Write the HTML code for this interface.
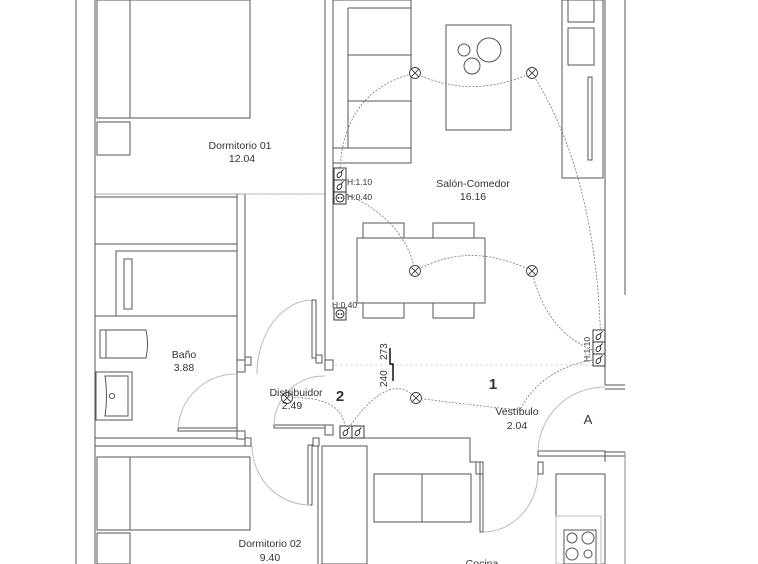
<!DOCTYPE html>
<html><head><style>
html,body{margin:0;padding:0;background:#fff;width:758px;height:564px;overflow:hidden}
text{font-family:"Liberation Sans",sans-serif;fill:#333}
</style></head><body>
<svg width="758" height="564" viewBox="0 0 758 564" xmlns="http://www.w3.org/2000/svg">
<defs>
<g id="l" fill="#fff" stroke="#444" stroke-width="0.9"><circle cx="0" cy="0" r="5.5"/><line x1="-4" y1="-4" x2="4" y2="4"/><line x1="4" y1="-4" x2="-4" y2="4"/></g>
<g id="s" fill="none" stroke="#222" stroke-width="0.9"><ellipse cx="0" cy="1" rx="2" ry="3" transform="rotate(35)"/><line x1="1" y1="-2" x2="3.5" y2="-4.5"/></g>
</defs>
<g fill="none" stroke="#555" stroke-width="1">
<line x1="76" y1="0" x2="76" y2="564"/>
<line x1="95" y1="0" x2="95" y2="564"/>
<rect x="97" y="0" width="153" height="118"/>
<line x1="130" y1="0" x2="130" y2="118"/>
<rect x="97" y="122" width="33" height="33"/>
<line x1="95" y1="194" x2="325" y2="194" stroke="#aaa"/>
<rect x="95" y="197" width="142" height="47"/>
<line x1="237" y1="194" x2="237" y2="360"/>
<line x1="245" y1="194" x2="245" y2="360"/>
<rect x="116" y="251" width="121" height="65"/>
<rect x="124" y="259" width="8" height="50"/>
<line x1="325" y1="0" x2="325" y2="360"/>
<line x1="333" y1="0" x2="333" y2="300"/>
<rect x="333" y="0" width="78" height="163"/>
<line x1="348" y1="8" x2="348" y2="148"/>
<line x1="348" y1="8" x2="411" y2="8"/>
<line x1="348" y1="55" x2="411" y2="55"/>
<line x1="348" y1="101" x2="411" y2="101"/>
<line x1="333" y1="148" x2="411" y2="148"/>
<rect x="446" y="25" width="65" height="105"/>
<circle cx="464" cy="50" r="6"/><circle cx="489" cy="50" r="12"/><circle cx="472" cy="66" r="8"/>
<rect x="562" y="0" width="41" height="178"/>
<rect x="568" y="0" width="26" height="22"/>
<rect x="568" y="28" width="26" height="37"/>
<rect x="588" y="77" width="4" height="83"/>
<line x1="605" y1="0" x2="605" y2="385"/>
<line x1="625" y1="0" x2="625" y2="295"/>
<rect x="357" y="238" width="128" height="65"/>
<rect x="363" y="223" width="41" height="15"/><rect x="433" y="223" width="41" height="15"/>
<rect x="363" y="303" width="41" height="15"/><rect x="433" y="303" width="41" height="15"/>
<rect x="95" y="316" width="142" height="122"/>
<path d="M146 330 H100 V358 H146 Q149 344 146 330 Z"/>
<line x1="106" y1="330" x2="106" y2="358"/>
<rect x="96" y="372" width="36" height="48"/>
<path d="M105 376 H128 V416 H105 Q108 396 105 376Z"/>
<circle cx="112" cy="396" r="2.5"/>
<rect x="178" y="428" width="59" height="3"/>
<path d="M178 428 A58 58 0 0 1 237 374" stroke="#bbb"/>
<rect x="237" y="360" width="8" height="12"/><rect x="245" y="357" width="6" height="8"/>
<rect x="237" y="431" width="8" height="8"/><rect x="245" y="438" width="6" height="8"/>
<rect x="312" y="300" width="4" height="58"/>
<path d="M257 374 A56 74 0 0 1 312 300" stroke="#bbb"/>
<rect x="316" y="355" width="6" height="8"/><rect x="325" y="360" width="8" height="10"/>
<line x1="95" y1="446" x2="245" y2="446"/>
<rect x="97" y="457" width="153" height="73"/>
<line x1="130" y1="457" x2="130" y2="530"/>
<rect x="97" y="533" width="33" height="31"/>
<rect x="308" y="445" width="4" height="60"/>
<path d="M252 446 A58 60 0 0 0 310 505" stroke="#bbb"/>
<rect x="274" y="425" width="51" height="3"/>
<path d="M274 425 A50 50 0 0 1 325 376" stroke="#bbb"/>
<rect x="325" y="425" width="8" height="10"/><rect x="313" y="438" width="6" height="8"/>
<line x1="318" y1="446" x2="318" y2="564"/>
<line x1="322" y1="446" x2="322" y2="564"/>
<rect x="322" y="446" width="45" height="118"/>
<polyline points="363,438 470,438 470,462 483,462"/>
<rect x="374" y="474" width="97" height="48"/>
<line x1="422" y1="474" x2="422" y2="522"/>
<rect x="480" y="462" width="3" height="70"/>
<rect x="476" y="462" width="7" height="12"/>
<path d="M483 532 A55 60 0 0 0 538 472" stroke="#bbb"/>
<rect x="538" y="462" width="5" height="12"/>
<rect x="556" y="474" width="49" height="90"/>
<rect x="556" y="516" width="45" height="48" stroke="#bbb"/>
<rect x="564" y="530" width="32" height="34"/>
<circle cx="572" cy="538" r="5"/><circle cx="588" cy="538" r="6"/><circle cx="572" cy="554" r="6"/><circle cx="588" cy="554" r="4"/>
<line x1="605" y1="385" x2="625" y2="385"/><line x1="605" y1="389" x2="625" y2="389"/>
<rect x="538" y="451" width="67" height="5"/>
<line x1="605" y1="452" x2="625" y2="452"/><line x1="605" y1="456" x2="625" y2="456"/>
<line x1="605" y1="456" x2="605" y2="462"/>
<path d="M538 451 A67 66 0 0 1 605 387" stroke="#bbb"/>
<line x1="625" y1="452" x2="625" y2="564" stroke="#888"/>
</g>
<g fill="none" stroke="#777" stroke-width="0.8" stroke-dasharray="2,1.5">
<path d="M340 168 Q345 90 415 73"/>
<path d="M415 73 Q470 100 532 73"/>
<path d="M532 73 Q600 180 601 360"/>
<path d="M346 194 Q405 220 415 271"/>
<path d="M415 271 Q470 240 532 271"/>
<path d="M532 271 Q545 330 592 350"/>
<path d="M592 360 Q540 370 520 410 Q470 405 416 398"/>
<path d="M416 398 Q390 370 350 426"/>
<path d="M287 398 Q340 395 345 426"/>
<line x1="335" y1="365" x2="592" y2="365" stroke="#ccc" stroke-dasharray="3,2"/>
<line x1="245" y1="194" x2="325" y2="194" stroke="#ccc"/>
</g>
<use href="#l" x="415" y="73"/><use href="#l" x="532" y="73"/><use href="#l" x="415" y="271"/><use href="#l" x="532" y="271"/><use href="#l" x="416" y="398"/><use href="#l" x="287" y="398"/>
<g fill="#fff" stroke="#222" stroke-width="0.9">
<rect x="334" y="168" width="12" height="12"/><rect x="334" y="180" width="12" height="12"/><rect x="334" y="192" width="12" height="12"/>
<rect x="334" y="308" width="12" height="12"/>
<rect x="593" y="330" width="12" height="12"/><rect x="593" y="342" width="12" height="12"/><rect x="593" y="354" width="12" height="12"/>
<rect x="340" y="426" width="12" height="12"/><rect x="352" y="426" width="12" height="12"/>
<circle cx="340" cy="198" r="4"/><circle cx="340" cy="314" r="4"/>
</g>
<g fill="#222"><circle cx="338.5" cy="198" r="0.9"/><circle cx="341.5" cy="198" r="0.9"/><circle cx="338.5" cy="314" r="0.9"/><circle cx="341.5" cy="314" r="0.9"/></g>
<use href="#s" x="340" y="174"/><use href="#s" x="340" y="186"/>
<use href="#s" x="599" y="336"/><use href="#s" x="599" y="348"/><use href="#s" x="599" y="360"/>
<use href="#s" x="346" y="432"/><use href="#s" x="358" y="432"/>
<g font-size="8.5">
<text x="347" y="185">H:1.10</text><text x="347" y="200">H:0.40</text>
<text x="332" y="308">H:0.40</text>
<text transform="translate(590,362) rotate(-90)">H:1.10</text>
<text transform="translate(387,360) rotate(-90)" font-size="10">273</text>
<text transform="translate(387,387) rotate(-90)" font-size="10">240</text>
</g>
<path d="M390 348 V364 H393 V381" stroke="#111" stroke-width="1.5" fill="none"/>
<g font-size="10.5" text-anchor="middle">
<text x="240" y="149">Dormitorio 01</text><text x="242" y="162">12.04</text>
<text x="473" y="187">Salón-Comedor</text><text x="473" y="200">16.16</text>
<text x="184" y="358">Baño</text><text x="184" y="371">3.88</text>
<text x="296" y="396">Distribuidor</text><text x="292" y="409">2.49</text>
<text x="517" y="415">Vestíbulo</text><text x="517" y="429">2.04</text>
<text x="270" y="547">Dormitorio 02</text><text x="270" y="561">9.40</text>
<text x="482" y="567">Cocina</text>
<text x="588" y="424" font-size="13">A</text>
<text x="493" y="389" font-size="15" font-weight="bold" fill="#111">1</text>
<text x="340" y="401" font-size="15" font-weight="bold" fill="#111">2</text>
</g>
</svg>
</body></html>
